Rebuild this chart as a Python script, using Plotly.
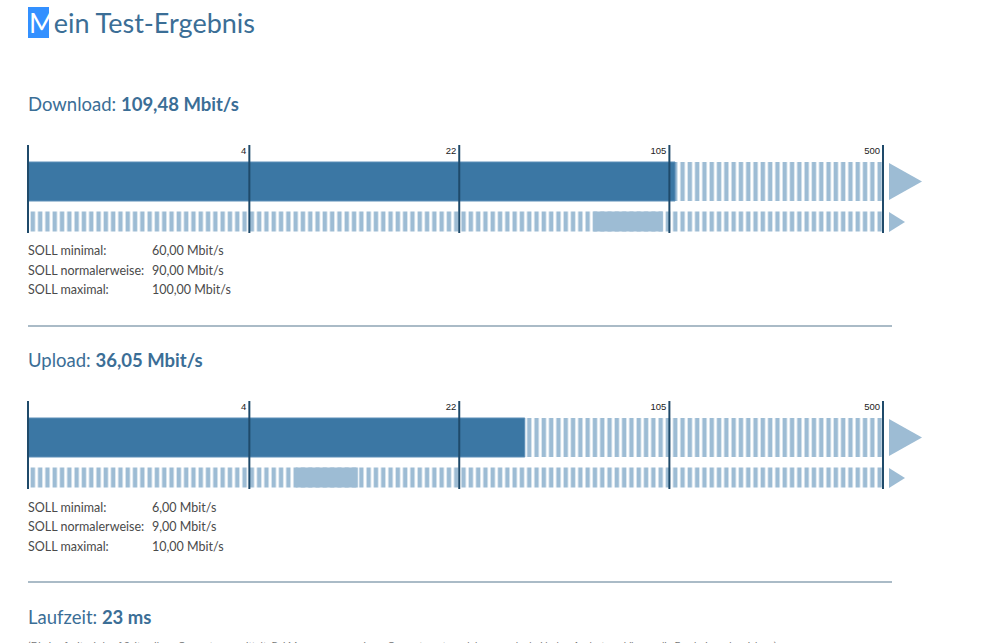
import math
import plotly.graph_objects as go

# ---------------- data ----------------
scale_ticks = [0, 4, 22, 105, 500]
tick_labels = ["", "4", "22", "105", "500"]
sections = ["Download", "Upload"]
measured = [109.48, 36.05]
soll_min = [60.0, 6.0]
soll_normal = [90.0, 9.0]
soll_max = [100.0, 10.0]
soll_row_labels = ["SOLL minimal:", "SOLL normalerweise:", "SOLL maximal:"]
latency_ms = 23
title_text = "Mein Test-Ergebnis"
footnote = ("(Die Laufzeit wird auf Seiten Ihres Computers ermittelt. Bei Messungen aus einem "
            "Computernetzwerk heraus oder bei hoher Auslastung können die Ergebnisse abweichen.)")

# ---------------- styling / layout ----------------
W, H = 999, 643
DARK = "#3b77a4"
LIGHT = "#9dbcd4"
TICK = "#1f4a6a"
HEAD = "#3b6e96"
TXT = "#4a4a4a"
SEP = "#8ea4b4"
FONT = "Lato, 'Noto Sans', sans-serif"

LEFT_PX, RIGHT_PX = 28, 883


def s(v):
    """gauge scale: logarithmic in (1 + value)"""
    return math.log1p(v)


PX = (RIGHT_PX - LEFT_PX) / (s(scale_ticks[-1]) - s(scale_ticks[0]))
x_range = [s(0) - LEFT_PX / PX, s(0) + (W - LEFT_PX) / PX]


def de(v):
    return f"{v:.2f}".replace(".", ",")


def py(y):  # pixel y -> paper y
    return 1 - y / H


def px(x):  # pixel x -> paper x
    return x / W


fig = go.Figure()
annotations = []
shapes = []

stripe = dict(shape="|", fgcolor=LIGHT, bgcolor="white", size=7.3, solidity=0.6, fillmode="replace")

for i, name in enumerate(sections):
    off = 256 * i
    yc_top, th_top = 181.5 + off, 39
    yc_low, th_low = 221.5 + off, 20
    vmax = scale_ticks[-1]
    v0 = scale_ticks[0]

    # remaining (striped) part of top bar
    fig.add_trace(go.Bar(orientation="h", y=[yc_top], base=[s(measured[i])],
                         x=[s(vmax) - s(measured[i])], width=[th_top],
                         marker=dict(color="white", pattern=stripe, line=dict(width=0))))
    # measured bar
    fig.add_trace(go.Bar(orientation="h", y=[yc_top], base=[s(v0)],
                         x=[s(measured[i]) - s(v0)], width=[th_top],
                         marker=dict(color=DARK, line=dict(width=1, color="#5d8fb8"))))
    # lower striped bar
    fig.add_trace(go.Bar(orientation="h", y=[yc_low], base=[s(v0)],
                         x=[s(vmax) - s(v0)], width=[th_low],
                         marker=dict(color="white", pattern=stripe, line=dict(width=0))))
    # SOLL range (min..max)
    fig.add_trace(go.Bar(orientation="h", y=[yc_low], base=[s(soll_min[i])],
                         x=[s(soll_max[i]) - s(soll_min[i])], width=[th_low],
                         marker=dict(color=LIGHT, line=dict(width=0))))

    # tick lines
    lx, ly = [], []
    for t in scale_ticks:
        lx += [s(t), s(t), None]
        ly += [145 + off, 233 + off, None]
    fig.add_trace(go.Scatter(x=lx, y=ly, mode="lines",
                             line=dict(color=TICK, width=2)))
    # tick labels
    fig.add_trace(go.Scatter(x=[s(t) - 3 / PX for t in scale_ticks], y=[152 + off] * len(scale_ticks),
                             mode="text", text=tick_labels, textposition="middle left",
                             textfont=dict(family="Liberation Sans, Arial", size=9.5, color="#222")))
    # arrows
    xe = s(vmax)
    fig.add_trace(go.Scatter(x=[xe + 6 / PX, xe + 39 / PX, xe + 6 / PX, xe + 6 / PX],
                             y=[163 + off, 181.5 + off, 200 + off, 163 + off],
                             mode="lines", fill="toself", fillcolor=LIGHT,
                             line=dict(width=0, color=LIGHT)))
    fig.add_trace(go.Scatter(x=[xe + 6 / PX, xe + 22 / PX, xe + 6 / PX, xe + 6 / PX],
                             y=[212 + off, 222 + off, 232 + off, 212 + off],
                             mode="lines", fill="toself", fillcolor=LIGHT,
                             line=dict(width=0, color=LIGHT)))

    # heading
    annotations.append(dict(x=px(26), y=py(104 + off), xref="paper", yref="paper",
                            xanchor="left", yanchor="middle", showarrow=False,
                            text=f"{name}: <b>{de(measured[i])} Mbit/s</b>",
                            font=dict(family=FONT, size=18.5, color=HEAD)))
    # SOLL rows
    vals = [soll_min[i], soll_normal[i], soll_max[i]]
    for r, (lab, v) in enumerate(zip(soll_row_labels, vals)):
        yy = 251 + 19.5 * r + off
        annotations.append(dict(x=px(26), y=py(yy), xref="paper", yref="paper",
                                xanchor="left", yanchor="middle", showarrow=False,
                                text=lab, font=dict(family=FONT, size=12.5, color=TXT)))
        annotations.append(dict(x=px(150), y=py(yy), xref="paper", yref="paper",
                                xanchor="left", yanchor="middle", showarrow=False,
                                text=f"{de(v)} Mbit/s", font=dict(family=FONT, size=12.5, color=TXT)))
    # separator
    shapes.append(dict(type="line", xref="paper", yref="paper",
                       x0=px(28), x1=px(892), y0=py(326 + off), y1=py(326 + off),
                       line=dict(color=SEP, width=1.5)))

# selection highlight behind the first letter of the title
shapes.append(dict(type="rect", xref="paper", yref="paper", layer="below",
                   x0=px(28), x1=px(49), y0=py(38), y1=py(7),
                   fillcolor="#3390ff", line=dict(width=0)))
annotations.append(dict(x=px(27), y=py(22), xref="paper", yref="paper", xanchor="left",
                        yanchor="middle", showarrow=False,
                        text=f"<span style='color:white'>{title_text[0]}</span>{title_text[1:]}",
                        font=dict(family=FONT, size=27, color=HEAD)))
# Laufzeit
annotations.append(dict(x=px(26), y=py(617), xref="paper", yref="paper", xanchor="left",
                        yanchor="middle", showarrow=False,
                        text=f"Laufzeit: <b>{latency_ms} ms</b>",
                        font=dict(family=FONT, size=18.5, color=HEAD)))
annotations.append(dict(x=px(26), y=py(637), xref="paper", yref="paper", xanchor="left",
                        yanchor="top", showarrow=False, text=footnote,
                        font=dict(family=FONT, size=10, color="#777")))

fig.update_layout(
    width=W, height=H, margin=dict(l=0, r=0, t=0, b=0),
    paper_bgcolor="white", plot_bgcolor="white",
    barmode="overlay", showlegend=False, hovermode=False,
    xaxis=dict(range=x_range, visible=False, fixedrange=True),
    yaxis=dict(range=[H, 0], visible=False, fixedrange=True),
    annotations=annotations, shapes=shapes,
)

fig.write_html("out.html", config={"displayModeBar": False},
               post_script="document.body.style.margin='0';document.body.style.overflow='hidden';")
